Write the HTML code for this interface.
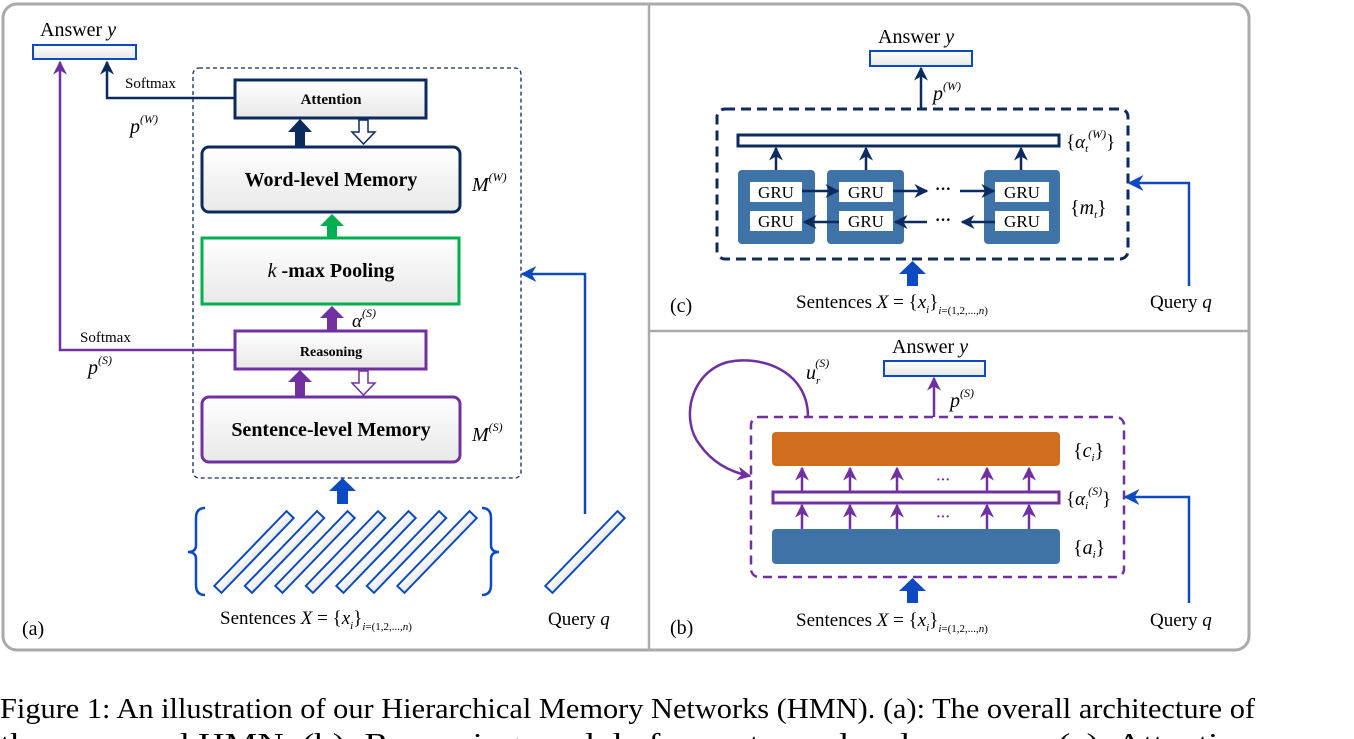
<!DOCTYPE html>
<html><head><meta charset="utf-8"><style>
html,body{margin:0;padding:0;background:#fff;}
svg{display:block;font-family:"Liberation Serif",serif;}
.it{font-style:italic;}
</style></head><body>
<svg width="1354" height="739" viewBox="0 0 1354 739" xmlns="http://www.w3.org/2000/svg">
<defs>
<marker id="hn" viewBox="0 0 10 10" markerWidth="14" markerHeight="14" refX="9" refY="5" orient="auto" markerUnits="userSpaceOnUse"><path d="M0,0 L10,5 L0,10 L3,5z" fill="#0d2a5e"/></marker>
<marker id="hp" viewBox="0 0 10 10" markerWidth="14" markerHeight="14" refX="9" refY="5" orient="auto" markerUnits="userSpaceOnUse"><path d="M0,0 L10,5 L0,10 L3,5z" fill="#7030a0"/></marker>
<marker id="hb" viewBox="0 0 10 10" markerWidth="16" markerHeight="16" refX="9" refY="5" orient="auto" markerUnits="userSpaceOnUse"><path d="M0,0 L10,5 L0,10 L3,5z" fill="#0b4ac0"/></marker>
<linearGradient id="g" x1="0" y1="0" x2="0" y2="1"><stop offset="0" stop-color="#ffffff"/><stop offset="1" stop-color="#e8e8e8"/></linearGradient>
</defs>

<rect x="3" y="4" width="1246" height="646" rx="14" fill="none" stroke="#aaaaaa" stroke-width="3"/>
<line x1="649" y1="4" x2="649" y2="650" stroke="#aaaaaa" stroke-width="2.5"/>
<line x1="649" y1="331" x2="1249" y2="331" stroke="#aaaaaa" stroke-width="2.5"/>

<!-- ===== Panel (a) ===== -->
<text x="40" y="36" font-size="20">Answer <tspan class="it">y</tspan></text>
<rect x="33" y="45" width="103" height="14" fill="url(#g)" stroke="#0b4ac0" stroke-width="2"/>
<rect x="193" y="68" width="328" height="410" rx="6" fill="none" stroke="#0d2a5e" stroke-width="1.3" stroke-dasharray="4,3"/>

<rect x="235" y="80" width="191" height="38" fill="url(#g)" stroke="#0d2a5e" stroke-width="3"/>
<text x="331" y="104" font-size="15" font-weight="bold" text-anchor="middle">Attention</text>
<rect x="202" y="147" width="258" height="65" rx="7" fill="url(#g)" stroke="#0d2a5e" stroke-width="3"/>
<text x="331" y="186" font-size="20" font-weight="bold" text-anchor="middle">Word-level Memory</text>
<text x="472" y="191" font-size="20" class="it">M<tspan font-size="12" dy="-10">(W)</tspan></text>

<polygon points="295,147 305,147 305,132 312,132 300,119 288,132 295,132" fill="#0d2a5e"/>
<polygon points="359,120 368,120 368,132 375,132 363.5,144 352,132 359,132" fill="#fff" stroke="#0d2a5e" stroke-width="1.5"/>

<polygon points="327,238 337,238 337,226 344,226 332,214 320,226 327,226" fill="#00b050"/>
<rect x="202" y="238" width="257" height="66" fill="url(#g)" stroke="#00b050" stroke-width="3"/>
<text x="331" y="277" font-size="20" font-weight="bold" text-anchor="middle"><tspan class="it" font-weight="normal">k</tspan> -max Pooling</text>

<polygon points="327,331 337,331 337,318 344,318 332,306 320,318 327,318" fill="#7030a0"/>
<text x="352" y="327" font-size="19" class="it">α<tspan font-size="12" dy="-10">(S)</tspan></text>
<rect x="235" y="331" width="191" height="38" fill="url(#g)" stroke="#7030a0" stroke-width="3"/>
<text x="331" y="356" font-size="14" font-weight="bold" text-anchor="middle">Reasoning</text>

<polygon points="295,397 305,397 305,382 312,382 300,370 288,382 295,382" fill="#7030a0"/>
<polygon points="359,371 368,371 368,383 375,383 363.5,395 352,383 359,383" fill="#fff" stroke="#7030a0" stroke-width="1.5"/>

<rect x="202" y="397" width="258" height="65" rx="7" fill="url(#g)" stroke="#7030a0" stroke-width="3"/>
<text x="331" y="436" font-size="20" font-weight="bold" text-anchor="middle">Sentence-level Memory</text>
<text x="472" y="441" font-size="20" class="it">M<tspan font-size="12" dy="-10">(S)</tspan></text>

<polyline points="235,98 107,98 107,62" fill="none" stroke="#0d2a5e" stroke-width="2.5" marker-end="url(#hn)"/>
<text x="125" y="88" font-size="15">Softmax</text>
<text x="130" y="133" font-size="20" class="it">p<tspan font-size="12" dy="-10">(W)</tspan></text>
<polyline points="235,350 60,350 60,62" fill="none" stroke="#7030a0" stroke-width="2.5" marker-end="url(#hp)"/>
<text x="80" y="342" font-size="15">Softmax</text>
<text x="88" y="374" font-size="20" class="it">p<tspan font-size="12" dy="-10">(S)</tspan></text>

<polygon points="337,504 348,504 348,491 356,491 342.5,478 329,491 337,491" fill="#0b4ac0"/>
<path d="M205,508 Q196,508 196,518 L196,545 Q196,552 188,552 Q196,552 196,559 L196,585 Q196,595 205,595" fill="none" stroke="#0b4ac0" stroke-width="2.5"/>
<path d="M482,508 Q491,508 491,518 L491,545 Q491,552 499,552 Q491,552 491,559 L491,585 Q491,595 482,595" fill="none" stroke="#0b4ac0" stroke-width="2.5"/>
<g fill="url(#g)" stroke="#0b4ac0" stroke-width="2">
<rect x="-52" y="-5" width="104" height="10" transform="translate(254,552) rotate(-46)"/>
<rect x="-52" y="-5" width="104" height="10" transform="translate(284.5,552) rotate(-46)"/>
<rect x="-52" y="-5" width="104" height="10" transform="translate(315,552) rotate(-46)"/>
<rect x="-52" y="-5" width="104" height="10" transform="translate(345.5,552) rotate(-46)"/>
<rect x="-52" y="-5" width="104" height="10" transform="translate(376,552) rotate(-46)"/>
<rect x="-52" y="-5" width="104" height="10" transform="translate(406.5,552) rotate(-46)"/>
<rect x="-52" y="-5" width="104" height="10" transform="translate(437,552) rotate(-46)"/>
<rect x="-52" y="-5" width="104" height="10" transform="translate(585,552) rotate(-46)"/>
</g>
<text x="220" y="624" font-size="19">Sentences  <tspan class="it">X</tspan> = {<tspan class="it">x<tspan font-size="11" dy="5">i</tspan></tspan><tspan dy="-5">}</tspan><tspan font-size="11" dy="6" class="it">i</tspan><tspan font-size="11">=(1,2,...,</tspan><tspan font-size="11" class="it">n</tspan><tspan font-size="11">)</tspan></text>
<polyline points="585,514 585,274 522,274" fill="none" stroke="#0b4ac0" stroke-width="2.5" marker-end="url(#hb)"/>
<text x="548" y="625" font-size="19">Query  <tspan class="it">q</tspan></text>
<text x="22" y="635" font-size="20">(a)</text>

<!-- ===== Panel (c) ===== -->
<text x="878" y="43" font-size="20">Answer <tspan class="it">y</tspan></text>
<rect x="870" y="51" width="102" height="15" fill="url(#g)" stroke="#0b4ac0" stroke-width="2"/>
<line x1="921" y1="108" x2="921" y2="68" stroke="#0d2a5e" stroke-width="2.5" marker-end="url(#hn)"/>
<text x="933" y="100" font-size="20" class="it">p<tspan font-size="12" dy="-10">(W)</tspan></text>
<rect x="717" y="109" width="411" height="150" rx="8" fill="none" stroke="#0d2a5e" stroke-width="3" stroke-dasharray="10,6"/>
<rect x="738" y="135" width="321" height="11" fill="#fff" stroke="#0d2a5e" stroke-width="3"/>
<text x="1066" y="148" font-size="19">{<tspan class="it">α<tspan font-size="11" dy="4">t</tspan><tspan font-size="12" dy="-14">(W)</tspan></tspan><tspan dy="10">}</tspan></text>
<g stroke="#0d2a5e" stroke-width="2.5">
<line x1="776" y1="170" x2="776" y2="148" marker-end="url(#hn)"/>
<line x1="866" y1="170" x2="866" y2="148" marker-end="url(#hn)"/>
<line x1="1021" y1="170" x2="1021" y2="148" marker-end="url(#hn)"/>
</g>
<g fill="#3f72a6">
<rect x="738" y="170" width="77" height="74" rx="4"/>
<rect x="827" y="170" width="77" height="74" rx="4"/>
<rect x="984" y="170" width="76" height="74" rx="4"/>
</g>
<g fill="#fff">
<rect x="750" y="182" width="52" height="20"/><rect x="750" y="211" width="52" height="20"/>
<rect x="839" y="182" width="54" height="20"/><rect x="839" y="211" width="54" height="20"/>
<rect x="995" y="182" width="54" height="20"/><rect x="995" y="211" width="54" height="20"/>
</g>
<g font-size="17" text-anchor="middle">
<text x="776" y="198">GRU</text><text x="776" y="227">GRU</text>
<text x="866" y="198">GRU</text><text x="866" y="227">GRU</text>
<text x="1022" y="198">GRU</text><text x="1022" y="227">GRU</text>
</g>
<g stroke="#0d2a5e" stroke-width="2.5">
<line x1="802" y1="191" x2="838" y2="191" marker-end="url(#hn)"/>
<line x1="893" y1="191" x2="927" y2="191" marker-end="url(#hn)"/>
<line x1="960" y1="191" x2="994" y2="191" marker-end="url(#hn)"/>
<line x1="839" y1="222" x2="804" y2="222" marker-end="url(#hn)"/>
<line x1="927" y1="222" x2="895" y2="222" marker-end="url(#hn)"/>
<line x1="995" y1="222" x2="962" y2="222" marker-end="url(#hn)"/>
</g>
<text x="943" y="194" font-size="16" font-weight="bold" text-anchor="middle">···</text>
<text x="943" y="225" font-size="16" font-weight="bold" text-anchor="middle">···</text>
<text x="1070" y="214" font-size="20">{<tspan class="it">m<tspan font-size="11" dy="4">t</tspan></tspan><tspan dy="-4">}</tspan></text>
<polygon points="907,286 918,286 918,274 926,274 912.5,261 899,274 907,274" fill="#0b4ac0"/>
<text x="796" y="308" font-size="19">Sentences  <tspan class="it">X</tspan> = {<tspan class="it">x<tspan font-size="11" dy="5">i</tspan></tspan><tspan dy="-5">}</tspan><tspan font-size="11" dy="6" class="it">i</tspan><tspan font-size="11">=(1,2,...,</tspan><tspan font-size="11" class="it">n</tspan><tspan font-size="11">)</tspan></text>
<polyline points="1189,286 1189,183 1129,183" fill="none" stroke="#0b4ac0" stroke-width="2.5" marker-end="url(#hb)"/>
<text x="1150" y="308" font-size="19">Query  <tspan class="it">q</tspan></text>
<text x="670" y="312" font-size="20">(c)</text>

<!-- ===== Panel (b) ===== -->
<text x="892" y="353" font-size="20">Answer <tspan class="it">y</tspan></text>
<rect x="884" y="361" width="101" height="15" fill="url(#g)" stroke="#0b4ac0" stroke-width="2"/>
<line x1="934" y1="417" x2="934" y2="378" stroke="#7030a0" stroke-width="2.5" marker-end="url(#hp)"/>
<text x="950" y="407" font-size="20" class="it">p<tspan font-size="12" dy="-10">(S)</tspan></text>
<text x="806" y="379" font-size="20" class="it">u<tspan font-size="11" dy="5">r</tspan><tspan font-size="12" dx="-5" dy="-17">(S)</tspan></text>
<path d="M808,417 C808,370 760,355 728,362 C690,372 680,420 700,445 C712,462 730,472 750,476" fill="none" stroke="#7030a0" stroke-width="2.5" marker-end="url(#hp)"/>
<rect x="751" y="417" width="373" height="160" rx="8" fill="none" stroke="#7030a0" stroke-width="2.5" stroke-dasharray="9,6"/>
<rect x="772" y="432" width="288" height="34" rx="4" fill="#d26d1e"/>
<rect x="773" y="492" width="286" height="11" fill="#fff" stroke="#7030a0" stroke-width="3"/>
<rect x="772" y="529" width="288" height="35" rx="4" fill="#3f72a6"/>
<g stroke="#7030a0" stroke-width="2.5">
<line x1="802" y1="491" x2="802" y2="468" marker-end="url(#hp)"/>
<line x1="850" y1="491" x2="850" y2="468" marker-end="url(#hp)"/>
<line x1="897" y1="491" x2="897" y2="468" marker-end="url(#hp)"/>
<line x1="987" y1="491" x2="987" y2="468" marker-end="url(#hp)"/>
<line x1="1029" y1="491" x2="1029" y2="468" marker-end="url(#hp)"/>
<line x1="802" y1="529" x2="802" y2="505" marker-end="url(#hp)"/>
<line x1="850" y1="529" x2="850" y2="505" marker-end="url(#hp)"/>
<line x1="897" y1="529" x2="897" y2="505" marker-end="url(#hp)"/>
<line x1="987" y1="529" x2="987" y2="505" marker-end="url(#hp)"/>
<line x1="1029" y1="529" x2="1029" y2="505" marker-end="url(#hp)"/>
</g>
<text x="943" y="484" font-size="14" font-weight="bold" fill="#7030a0" text-anchor="middle">···</text>
<text x="943" y="521" font-size="14" font-weight="bold" fill="#7030a0" text-anchor="middle">···</text>
<text x="1073" y="457" font-size="20">{<tspan class="it">c<tspan font-size="11" dy="4">i</tspan></tspan><tspan dy="-4">}</tspan></text>
<text x="1066" y="505" font-size="19">{<tspan class="it">α<tspan font-size="11" dy="4">i</tspan><tspan font-size="12" dy="-14">(S)</tspan></tspan><tspan dy="10">}</tspan></text>
<text x="1073" y="554" font-size="20">{<tspan class="it">a<tspan font-size="11" dy="4">i</tspan></tspan><tspan dy="-4">}</tspan></text>
<polygon points="907,603 918,603 918,591 926,591 912.5,578 899,591 907,591" fill="#0b4ac0"/>
<text x="796" y="626" font-size="19">Sentences  <tspan class="it">X</tspan> = {<tspan class="it">x<tspan font-size="11" dy="5">i</tspan></tspan><tspan dy="-5">}</tspan><tspan font-size="11" dy="6" class="it">i</tspan><tspan font-size="11">=(1,2,...,</tspan><tspan font-size="11" class="it">n</tspan><tspan font-size="11">)</tspan></text>
<polyline points="1189,603 1189,497 1125,497" fill="none" stroke="#0b4ac0" stroke-width="2.5" marker-end="url(#hb)"/>
<text x="1150" y="626" font-size="19">Query  <tspan class="it">q</tspan></text>
<text x="670" y="634" font-size="20">(b)</text>

<!-- caption -->
<text x="0" y="718" font-size="29" textLength="1255" lengthAdjust="spacingAndGlyphs">Figure 1: An illustration of our Hierarchical Memory Networks (HMN). (a): The overall architecture of</text>
<text x="0" y="753" font-size="29" textLength="1255" lengthAdjust="spacingAndGlyphs">the proposed HMN. (b): Reasoning module for sentence-level memory. (c): Attention</text>
</svg>
</body></html>
